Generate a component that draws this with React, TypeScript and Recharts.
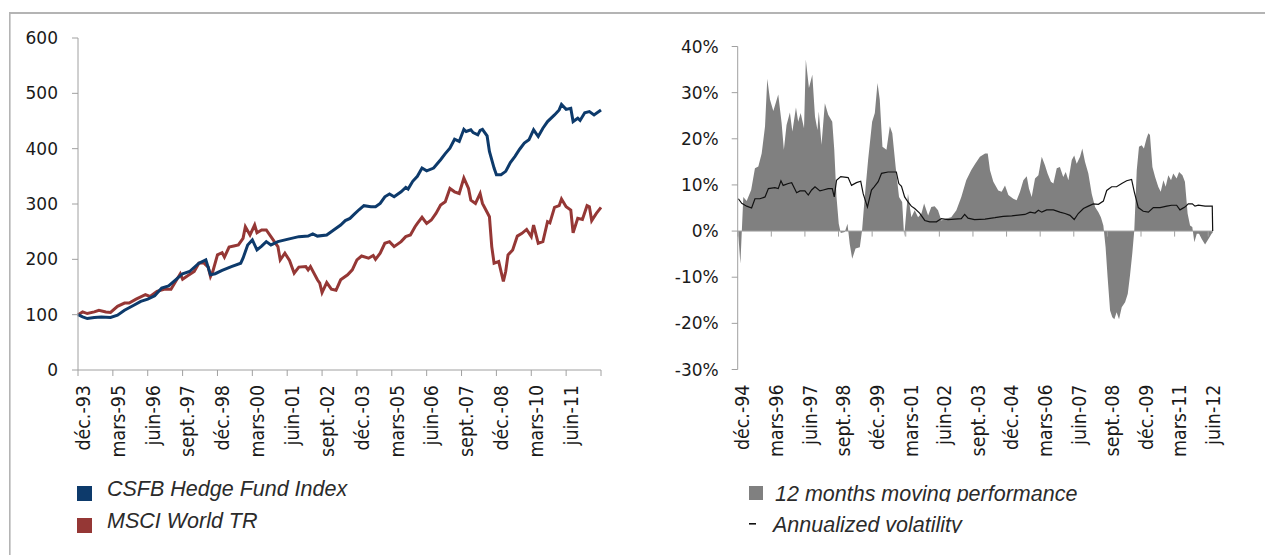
import React from "react";
import { ComposedChart, Line, Area, XAxis, YAxis, ReferenceLine } from "recharts";

// left chart: index levels, month 0 = déc.-93
const hfMonths = [0, 2, 4, 7, 10, 14, 17, 20, 24, 27, 30, 33, 36, 39, 42, 45, 48, 52, 55, 57, 59, 62, 66, 70, 71, 73, 75, 77, 79, 81, 83, 86, 90, 95, 99, 101, 103, 107, 110, 113, 115, 117, 119, 121, 123, 126, 128, 130, 132, 134, 136, 139, 141, 142, 144, 146, 148, 150, 153, 156, 158, 160, 162, 164, 166, 167, 169, 170, 172, 173, 174, 176, 177, 179, 180, 182, 184, 186, 188, 190, 192, 194, 196, 198, 200, 202, 205, 207, 208, 210, 212, 213, 215, 216, 218, 220, 222, 225];
const hfValues = [100, 96, 93, 95, 96, 95, 99, 108, 117, 124, 128, 134, 148, 152, 163, 174, 178, 193, 199, 172, 174, 180, 187, 193, 202, 226, 235, 217, 224, 232, 226, 232, 236, 241, 242, 246, 242, 244, 253, 262, 270, 274, 282, 290, 297, 295, 295, 301, 313, 318, 313, 322, 330, 327, 341, 350, 365, 360, 365, 380, 391, 401, 417, 413, 435, 431, 434, 429, 425, 433, 435, 423, 395, 365, 353, 353, 359, 375, 386, 399, 410, 416, 434, 422, 437, 449, 461, 470, 480, 471, 473, 449, 455, 451, 465, 467, 461, 470];

const msciMonths = [0, 2, 4, 7, 9, 12, 14, 17, 20, 22, 25, 29, 31, 34, 37, 40, 42, 44, 45, 47, 50, 52, 54, 56, 57, 58, 60, 62, 63, 65, 67, 69, 71, 72, 74, 76, 77, 79, 81, 83, 85, 86, 87, 89, 91, 93, 95, 98, 99, 100, 103, 104, 105, 107, 109, 111, 113, 116, 118, 120, 122, 125, 127, 128, 130, 132, 134, 136, 139, 141, 143, 145, 146, 148, 150, 152, 154, 156, 158, 160, 162, 164, 166, 168, 169, 171, 173, 174, 176, 177, 178, 179, 181, 183, 184, 185, 187, 189, 191, 193, 195, 196, 198, 200, 202, 203, 205, 207, 208, 210, 212, 213, 215, 217, 219, 220, 221, 223, 225];
const msciValues = [100, 105, 102, 105, 108, 105, 104, 115, 121, 121, 128, 136, 133, 142, 146, 146, 160, 174, 164, 170, 178, 193, 194, 186, 169, 178, 208, 212, 204, 222, 224, 226, 238, 259, 244, 262, 248, 253, 253, 241, 229, 223, 199, 211, 198, 175, 186, 187, 181, 187, 163, 157, 140, 158, 146, 144, 163, 172, 181, 199, 206, 202, 207, 200, 211, 229, 232, 223, 232, 241, 244, 259, 265, 276, 265, 271, 283, 298, 304, 328, 322, 319, 347, 328, 307, 301, 319, 301, 285, 277, 223, 193, 196, 160, 178, 208, 217, 242, 247, 254, 241, 262, 229, 232, 268, 266, 294, 297, 309, 295, 289, 248, 274, 272, 297, 295, 270, 283, 294];

const leftTickLabels = ["déc.-93", "mars-95", "juin-96", "sept.-97", "déc.-98", "mars-00", "juin-01", "sept.-02", "déc.-03", "mars-05", "juin-06", "sept.-07", "déc.-08", "mars-10", "juin-11"];
const leftTicks = [0, 15, 30, 45, 60, 75, 90, 105, 120, 135, 150, 165, 180, 195, 210, 225];
const leftYTicks = [0, 100, 200, 300, 400, 500, 600];

// right chart: %, month 0 = déc.-94
const perfMonths = [0.3, 1.2, 2.5, 4, 6, 7.7, 9.2, 10.7, 12.2, 13.2, 14.4, 15.9, 18.1, 19.6, 20.6, 21.8, 23.3, 24.4, 26, 27, 28.1, 29.6, 30.4, 31.8, 33.3, 34.5, 35.6, 36.2, 37.4, 38.9, 40.4, 42.2, 43.1, 44.1, 45.1, 46, 47.8, 49, 50, 51.1, 52.6, 54.5, 55.5, 56.7, 58.2, 60, 61.2, 62.4, 63.4, 64.6, 66.4, 67.9, 69, 70.5, 72, 73.4, 74.3, 75.3, 76, 77.5, 79, 80.5, 82, 83.2, 85, 86.4, 87.9, 89.4, 90.9, 93.1, 95.3, 97.6, 99.8, 102, 104.2, 106, 108.1, 110.4, 111.6, 112.6, 114.1, 116.3, 117.8, 119.3, 120.8, 123, 124.5, 126, 127.5, 129, 130, 131.2, 132.7, 134.2, 135.7, 137.1, 138.3, 139.8, 140.9, 142.4, 143.8, 145.3, 146.4, 147.6, 149.1, 150.2, 151.3, 152.8, 153.8, 155, 156.5, 158, 159.5, 161, 162.1, 163.2, 164.2, 165.1, 166.2, 167.2, 168.1, 169.1, 170.2, 171.4, 172.9, 174.1, 175.1, 176.1, 177, 178.1, 179.1, 180.3, 181.3, 182.5, 183.3, 184, 185.1, 186.3, 187.7, 188.8, 190, 191, 192.2, 193.4, 194.4, 195.9, 197, 198.5, 199.6, 200.8, 201.9, 202.9, 203.8, 204.9, 205.9, 207.1, 208.6, 210.1, 211.5, 212];
const perfValues = [-1, -7.1, 7.4, 6.5, 8.9, 13.6, 14, 16.8, 22.7, 33, 28.5, 26, 29.6, 23.4, 17.6, 23, 25.7, 21.6, 26.8, 23.7, 25.6, 22.3, 37.2, 31, 33.9, 24.8, 21.9, 25.9, 18.7, 27.7, 25.2, 23.7, 17.6, 7.4, 1.6, -0.4, -0.2, 1.6, -2.8, -6, -3.8, -3.5, 0.1, 7.4, 15.4, 23.7, 25.6, 32.1, 28.5, 18.3, 17.6, 22.7, 21.2, 13.9, 7.4, 6.3, -1.3, 4.5, 8.1, 3, 4.5, 3, 3.8, 6, 3.4, 5.2, 5.4, 4.5, 2.3, 2.7, 3, 4.5, 7.4, 11, 13.2, 14.6, 16.1, 16.8, 16.8, 13.2, 10.7, 8.8, 8.5, 9.9, 7.8, 7, 6.7, 8.5, 11, 11.9, 9.2, 7.4, 11.4, 12.1, 16.1, 14.3, 12.5, 10.7, 10.3, 13.6, 13.9, 11.7, 12.8, 11, 15.4, 16.4, 14.6, 16.1, 17.9, 15, 12.5, 8.1, 5.2, 4.1, 3, 1.2, -3.5, -10, -17.2, -18.7, -19.1, -17.6, -19.1, -16.5, -15.4, -13.6, -9.6, -4.9, 0.1, 13.2, 18.3, 18.6, 17.9, 20.1, 21.2, 20.8, 13.9, 11.7, 9.6, 8.5, 11, 9.6, 12.1, 11, 12.5, 11.4, 12.8, 12.1, 10.7, 3.8, 1.2, 0.9, -2.4, -0.6, -0.6, -1.7, -2.9, -1.7, -0.6, -0.3];

const volMonths = [0.3, 1.8, 4, 6.2, 7.7, 9.9, 12.2, 13.7, 16.6, 18.1, 19.3, 20.3, 22.6, 24.1, 26.3, 27.8, 30, 31.5, 33, 34.5, 36.7, 38.2, 40.4, 42.2, 43.1, 44.1, 46, 49.3, 50.8, 53, 54.9, 56, 57.9, 59.7, 60.9, 62.7, 64.2, 67.1, 70.8, 71.9, 73.1, 74.5, 76, 77.5, 79, 81.2, 83.5, 85.7, 88.7, 90.9, 93.9, 96.8, 99.8, 101.3, 102.8, 105.7, 110.4, 114.8, 118.5, 122.3, 128.2, 130.5, 132.7, 134.2, 135.7, 137.9, 140.9, 143.8, 146.1, 148.3, 150.2, 152, 154.3, 156.5, 158.7, 161, 163.2, 164.7, 166.9, 169.1, 171.4, 173.6, 175.8, 177, 178.8, 181, 183.3, 185.5, 188.5, 191.5, 193.7, 195.9, 197.4, 199.6, 201.1, 202.9, 204.1, 205.6, 208.6, 211.8, 212];
const volValues = [7, 6, 5.4, 5, 7, 7, 7.4, 9.2, 9.4, 9.2, 10.9, 9.9, 10.3, 10.5, 8.3, 8.7, 8.7, 7.8, 8.9, 9.6, 8.7, 8.9, 9.2, 9.2, 7.4, 11, 11.8, 11.6, 9.9, 10.5, 10.8, 8.1, 5.2, 8.9, 9.6, 10.7, 12.5, 12.8, 12.8, 10.3, 9.7, 7.4, 6.3, 5.4, 4.9, 3.9, 2.3, 2, 2, 2.7, 2.5, 2.6, 2.7, 3.6, 2.8, 2.5, 2.6, 2.9, 3.2, 3.3, 3.6, 4.1, 3.9, 4.5, 4.1, 4.6, 4.6, 4.1, 3.8, 3.4, 2.5, 3.8, 4.9, 5.4, 5.9, 5.8, 6.5, 8.8, 9.6, 9.6, 10.3, 10.9, 11.2, 8.5, 5.1, 4.3, 4.1, 5.1, 5.1, 5.4, 5.6, 5.6, 4.6, 5.2, 5.9, 5.9, 5.4, 5.6, 5.4, 5.4, 0];

const rightTickLabels = ["déc.-94", "mars-96", "juin-97", "sept.-98", "déc.-99", "mars-01", "juin-02", "sept.-03", "déc.-04", "mars-06", "juin-07", "sept.-08", "déc.-09", "mars-11", "juin-12"];
const rightTicks = [0, 15, 30, 45, 60, 75, 90, 105, 120, 135, 150, 165, 180, 195, 210];
const rightYTicks = [-30, -20, -10, 0, 10, 20, 30, 40];

const AXIS = "#a0a0a0";
const TICK_FONT = { fontFamily: "DejaVu Sans", fontSize: 17, fill: "#1a1a1a" };
const DATE_FONT = { fontFamily: "DejaVu Sans", fontSize: 17.5, fill: "#1a1a1a" };

type Series = { key: string; months: number[]; values: number[] };

function mergeSeries(series: Series[]) {
  const rows = new Map<number, Record<string, number>>();
  series.forEach((s) =>
    s.months.forEach((m, i) => {
      const row = rows.get(m) ?? { m };
      row[s.key] = s.values[i];
      rows.set(m, row);
    })
  );
  return [...rows.values()].sort((a, b) => a.m - b.m);
}

const leftData = mergeSeries([
  { key: "hf", months: hfMonths, values: hfValues },
  { key: "msci", months: msciMonths, values: msciValues },
]);
const rightData = mergeSeries([
  { key: "perf", months: perfMonths, values: perfValues },
  { key: "vol", months: volMonths, values: volValues },
]);

// rotated date labels, read bottom to top, right-aligned just under the axis
const dateTick = (labels: string[]) => (props: any) => {
  const { x, y, payload } = props;
  const label = labels[Math.round(payload.value / 15)] ?? "";
  return (
    <g transform={`translate(${x},${y}) scale(1.12,1)`}>
      <text transform="rotate(-90)" x={0} y={10.5} textAnchor="end" {...DATE_FONT}>
        {label}
      </text>
    </g>
  );
};

const LeftChart = () => (
  <ComposedChart width={640} height={470} data={leftData} margin={{ top: 38, right: 39, bottom: 20, left: 18 }}>
    <XAxis
      dataKey="m"
      type="number"
      domain={[0, 225]}
      ticks={leftTicks}
      interval={0}
      height={80}
      stroke={AXIS}
      tickSize={6}
      tickMargin={9}
      tick={dateTick(leftTickLabels)}
    />
    <YAxis
      domain={[0, 600]}
      ticks={leftYTicks}
      width={60}
      stroke={AXIS}
      tickSize={6}
      tickMargin={14}
      tick={TICK_FONT}
    />
    <Line dataKey="msci" type="linear" stroke="#953735" strokeWidth={3} dot={false} connectNulls isAnimationActive={false} />
    <Line dataKey="hf" type="linear" stroke="#0d3a6b" strokeWidth={3} dot={false} connectNulls isAnimationActive={false} />
  </ComposedChart>
);

const RightChart = () => (
  <ComposedChart width={625} height={470} data={rightData} margin={{ top: 46.5, right: 52.3, bottom: 20.5, left: 37.7 }}>
    <XAxis
      dataKey="m"
      type="number"
      domain={[0, 212]}
      ticks={rightTicks}
      interval={0}
      height={80}
      axisLine={false}
      tickLine={false}
      tickSize={6}
      tickMargin={9}
      tick={dateTick(rightTickLabels)}
    />
    <YAxis
      domain={[-30, 40]}
      ticks={rightYTicks}
      width={60}
      stroke={AXIS}
      tickSize={6}
      tickMargin={13}
      tick={TICK_FONT}
      tickFormatter={(v: number) => `${v}%`}
    />
    <Area dataKey="perf" type="linear" fill="#808080" fillOpacity={1} stroke="none" connectNulls isAnimationActive={false} />
    <ReferenceLine y={0} stroke={AXIS} />
    {rightTicks.map((t) => (
      <ReferenceLine key={t} segment={[{ x: t, y: 0 }, { x: t, y: -1.2 }]} stroke={AXIS} />
    ))}
    <Line dataKey="vol" type="linear" stroke="#111" strokeWidth={1.2} dot={false} connectNulls isAnimationActive={false} />
  </ComposedChart>
);

const legendText = { fontFamily: "Liberation Sans", fontStyle: "italic", fontSize: 21.5, fill: "#2b2b2b" } as const;

export default function App() {
  return (
    <div style={{ position: "absolute", left: 0, top: 0, width: 1265, height: 555, background: "#fff", overflow: "hidden" }}>
      <div style={{ position: "absolute", left: 0, top: 0 }}>
        <LeftChart />
      </div>
      <div style={{ position: "absolute", left: 640, top: 0 }}>
        <RightChart />
      </div>
      <svg width={1265} height={555} style={{ position: "absolute", left: 0, top: 0, pointerEvents: "none" }}>
        <defs>
          <clipPath id="clip-perf">
            <rect x={740} y={470} width={400} height={32} />
          </clipPath>
          <clipPath id="clip-vol">
            <rect x={740} y={505} width={400} height={28} />
          </clipPath>
        </defs>
        <rect x={9} y={12} width={1256} height={2} fill="#b4b4b4" />
        <rect x={9} y={12} width={1.6} height={543} fill="#b4b4b4" />

        <rect x={77} y={486} width={15} height={15} fill="#0d3a6b" />
        <text x={107} y={496} {...legendText}>CSFB Hedge Fund Index</text>
        <rect x={77} y={518} width={15} height={15} fill="#953735" />
        <text x={107} y={528} {...legendText}>MSCI World TR</text>

        <rect x={749} y={486} width={14} height={14} fill="#808080" />
        <text x={775} y={501} clipPath="url(#clip-perf)" {...legendText}>12 months moving performance</text>
        <rect x={749} y={523} width={7} height={1.6} fill="#111" />
        <text x={773} y={532} clipPath="url(#clip-vol)" {...legendText}>Annualized volatility</text>
      </svg>
    </div>
  );
}
